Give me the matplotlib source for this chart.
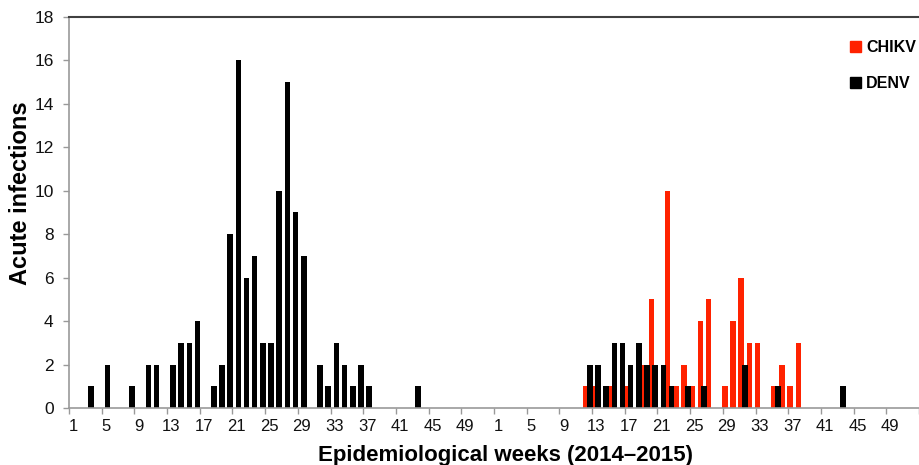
import matplotlib
matplotlib.use('Agg')
import matplotlib.pyplot as plt
import numpy as np
from matplotlib.patches import Patch

plt.rcParams['font.family'] = ['Liberation Sans', 'DejaVu Sans']

# region - data (epidemiological weeks, 52 per year)
weeks_per_year = 52
tick_weeks = [1, 5, 9, 13, 17, 21, 25, 29, 33, 37, 41, 45, 49]

denv_weeks_2014 = [3, 5, 8, 10, 11, 13, 14, 15, 16, 18, 19, 20, 21, 22, 23,
                   24, 25, 26, 27, 28, 29, 31, 32, 33, 34, 35, 36, 37, 43]
denv_cases_2014 = [1, 2, 1, 2, 2, 2, 3, 3, 4, 1, 2, 8, 16, 6, 7,
                   3, 3, 10, 15, 9, 7, 2, 1, 3, 2, 1, 2, 1, 1]

denv_weeks_2015 = [12, 13, 14, 15, 16, 17, 18, 19, 20, 21, 22, 24, 26, 31, 35, 43]
denv_cases_2015 = [2, 2, 1, 3, 3, 2, 3, 2, 2, 2, 1, 1, 1, 2, 1, 1]

chikv_weeks_2015 = [12, 13, 15, 17, 19, 20, 22, 23, 24, 25, 26, 27, 29, 30, 31,
                    32, 33, 35, 36, 37, 38]
chikv_cases_2015 = [1, 1, 1, 1, 2, 5, 10, 1, 2, 1, 4, 5, 1, 4, 6,
                    3, 3, 1, 2, 1, 3]
# endregion

n_cat = 2 * weeks_per_year
x = np.arange(1, n_cat + 1)
denv = np.zeros(n_cat)
chikv = np.zeros(n_cat)
for w, c in zip(denv_weeks_2014, denv_cases_2014):
    denv[w - 1] = c
for w, c in zip(denv_weeks_2015, denv_cases_2015):
    denv[weeks_per_year + w - 1] = c
for w, c in zip(chikv_weeks_2015, chikv_cases_2015):
    chikv[weeks_per_year + w - 1] = c

red = '#ff2200'
fig = plt.figure(figsize=(9.19, 4.65), dpi=100)
ax = fig.add_axes([69 / 919, 57 / 465, 850 / 919, 391 / 465])

ax.bar(x - 0.25, chikv, width=0.68, color=red, linewidth=0)
ax.bar(x + 0.22, denv, width=0.68, color='black', linewidth=0)

ax.set_ylim(0, 18)
ax.set_yticks(np.arange(0, 19, 2))
ax.set_xlim(0.5, 0.5 + 850 / 8.264)

tick_pos = [w for w in tick_weeks] + [weeks_per_year + w for w in tick_weeks]
tick_lab = [str(w) for w in tick_weeks] * 2
ax.set_xticks(tick_pos)
ax.set_xticklabels(tick_lab)
ax.set_xticks(np.arange(0.5, n_cat + 1, 4), minor=True)

ax.tick_params(axis='x', which='major', length=0, pad=8, labelsize=12, colors='#111111')
ax.tick_params(axis='x', which='minor', length=4, width=1, color='#999999')
ax.tick_params(axis='y', length=4, width=1, color='#999999', pad=7, labelsize=12.5,
               labelcolor='#111111')

ax.spines['right'].set_visible(False)
ax.spines['top'].set_color('#404040')
ax.spines['top'].set_linewidth(1.5)
ax.spines['left'].set_color('#999999')
ax.spines['bottom'].set_color('#999999')
ax.spines['left'].set_linewidth(1.2)
ax.spines['bottom'].set_linewidth(1.2)

ax.set_ylabel('Acute infections', fontsize=17, fontweight='bold')
ax.yaxis.set_label_coords(-0.043, 0.55)
ax.set_xlabel('Epidemiological weeks (2014\u20132015)', fontsize=16, fontweight='bold')
ax.xaxis.set_label_coords(0.514, -0.095)

handles = [Patch(color=red), Patch(color='black')]
fig.legend(handles, ['CHIKV', 'DENV'], loc='upper left',
           bbox_to_anchor=(842 / 919, 1 - 32 / 465), frameon=False, borderpad=0,
           handlelength=0.7, handleheight=0.7, handletextpad=0.3, labelspacing=1.3,
           prop={'weight': 'bold', 'size': 11.5})

fig.savefig('out.png', dpi=100)
